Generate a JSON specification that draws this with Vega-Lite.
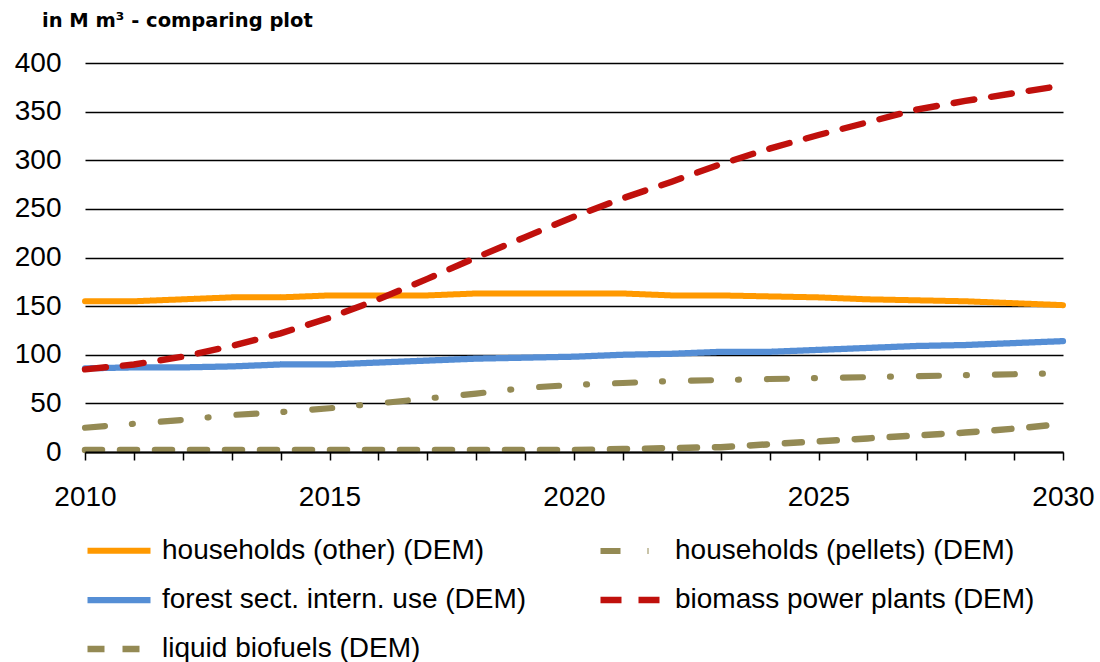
{
  "$schema": "https://vega.github.io/schema/vega-lite/v6.json",
  "width": 978,
  "height": 389,
  "autosize": {"type": "none"},
  "padding": {"left": 85, "top": 63, "right": 37, "bottom": 210},
  "background": "white",
  "config": {
    "view": {"stroke": null},
    "font": "Liberation Sans"
  },
  "title": {
    "text": "in M m³ - comparing plot",
    "anchor": "start",
    "frame": "group",
    "dx": -43,
    "offset": 18,
    "fontSize": 19.5,
    "fontWeight": "bold",
    "font": "DejaVu Sans",
    "color": "black"
  },
  "data": {
    "values": [
      {"year": 2010, "series": "households (other) (DEM)", "value": 155},
      {"year": 2011, "series": "households (other) (DEM)", "value": 155},
      {"year": 2012, "series": "households (other) (DEM)", "value": 157},
      {"year": 2013, "series": "households (other) (DEM)", "value": 159},
      {"year": 2014, "series": "households (other) (DEM)", "value": 159},
      {"year": 2015, "series": "households (other) (DEM)", "value": 161},
      {"year": 2016, "series": "households (other) (DEM)", "value": 161},
      {"year": 2017, "series": "households (other) (DEM)", "value": 161},
      {"year": 2018, "series": "households (other) (DEM)", "value": 163},
      {"year": 2019, "series": "households (other) (DEM)", "value": 163},
      {"year": 2020, "series": "households (other) (DEM)", "value": 163},
      {"year": 2021, "series": "households (other) (DEM)", "value": 163},
      {"year": 2022, "series": "households (other) (DEM)", "value": 161},
      {"year": 2023, "series": "households (other) (DEM)", "value": 161},
      {"year": 2024, "series": "households (other) (DEM)", "value": 160},
      {"year": 2025, "series": "households (other) (DEM)", "value": 159},
      {"year": 2026, "series": "households (other) (DEM)", "value": 157},
      {"year": 2027, "series": "households (other) (DEM)", "value": 156},
      {"year": 2028, "series": "households (other) (DEM)", "value": 155},
      {"year": 2029, "series": "households (other) (DEM)", "value": 153},
      {"year": 2030, "series": "households (other) (DEM)", "value": 151},
      {"year": 2010, "series": "households (pellets) (DEM)", "value": 25},
      {"year": 2011, "series": "households (pellets) (DEM)", "value": 29},
      {"year": 2012, "series": "households (pellets) (DEM)", "value": 33},
      {"year": 2013, "series": "households (pellets) (DEM)", "value": 38},
      {"year": 2014, "series": "households (pellets) (DEM)", "value": 41},
      {"year": 2015, "series": "households (pellets) (DEM)", "value": 45},
      {"year": 2016, "series": "households (pellets) (DEM)", "value": 50},
      {"year": 2017, "series": "households (pellets) (DEM)", "value": 55},
      {"year": 2018, "series": "households (pellets) (DEM)", "value": 60},
      {"year": 2019, "series": "households (pellets) (DEM)", "value": 66},
      {"year": 2020, "series": "households (pellets) (DEM)", "value": 69},
      {"year": 2021, "series": "households (pellets) (DEM)", "value": 71},
      {"year": 2022, "series": "households (pellets) (DEM)", "value": 73},
      {"year": 2023, "series": "households (pellets) (DEM)", "value": 74},
      {"year": 2024, "series": "households (pellets) (DEM)", "value": 75},
      {"year": 2025, "series": "households (pellets) (DEM)", "value": 76},
      {"year": 2026, "series": "households (pellets) (DEM)", "value": 77},
      {"year": 2027, "series": "households (pellets) (DEM)", "value": 78},
      {"year": 2028, "series": "households (pellets) (DEM)", "value": 79},
      {"year": 2029, "series": "households (pellets) (DEM)", "value": 80},
      {"year": 2030, "series": "households (pellets) (DEM)", "value": 81},
      {"year": 2010, "series": "forest sect.  intern. use (DEM)", "value": 86},
      {"year": 2011, "series": "forest sect.  intern. use (DEM)", "value": 87},
      {"year": 2012, "series": "forest sect.  intern. use (DEM)", "value": 87},
      {"year": 2013, "series": "forest sect.  intern. use (DEM)", "value": 88},
      {"year": 2014, "series": "forest sect.  intern. use (DEM)", "value": 90},
      {"year": 2015, "series": "forest sect.  intern. use (DEM)", "value": 90},
      {"year": 2016, "series": "forest sect.  intern. use (DEM)", "value": 92},
      {"year": 2017, "series": "forest sect.  intern. use (DEM)", "value": 94},
      {"year": 2018, "series": "forest sect.  intern. use (DEM)", "value": 96},
      {"year": 2019, "series": "forest sect.  intern. use (DEM)", "value": 97},
      {"year": 2020, "series": "forest sect.  intern. use (DEM)", "value": 98},
      {"year": 2021, "series": "forest sect.  intern. use (DEM)", "value": 100},
      {"year": 2022, "series": "forest sect.  intern. use (DEM)", "value": 101},
      {"year": 2023, "series": "forest sect.  intern. use (DEM)", "value": 103},
      {"year": 2024, "series": "forest sect.  intern. use (DEM)", "value": 103},
      {"year": 2025, "series": "forest sect.  intern. use (DEM)", "value": 105},
      {"year": 2026, "series": "forest sect.  intern. use (DEM)", "value": 107},
      {"year": 2027, "series": "forest sect.  intern. use (DEM)", "value": 109},
      {"year": 2028, "series": "forest sect.  intern. use (DEM)", "value": 110},
      {"year": 2029, "series": "forest sect.  intern. use (DEM)", "value": 112},
      {"year": 2030, "series": "forest sect.  intern. use (DEM)", "value": 114},
      {"year": 2010, "series": "biomass power plants (DEM)", "value": 85},
      {"year": 2011, "series": "biomass power plants (DEM)", "value": 90},
      {"year": 2012, "series": "biomass power plants (DEM)", "value": 98},
      {"year": 2013, "series": "biomass power plants (DEM)", "value": 109},
      {"year": 2014, "series": "biomass power plants (DEM)", "value": 122},
      {"year": 2015, "series": "biomass power plants (DEM)", "value": 138},
      {"year": 2016, "series": "biomass power plants (DEM)", "value": 157},
      {"year": 2017, "series": "biomass power plants (DEM)", "value": 178},
      {"year": 2018, "series": "biomass power plants (DEM)", "value": 200},
      {"year": 2019, "series": "biomass power plants (DEM)", "value": 221},
      {"year": 2020, "series": "biomass power plants (DEM)", "value": 242},
      {"year": 2021, "series": "biomass power plants (DEM)", "value": 261},
      {"year": 2022, "series": "biomass power plants (DEM)", "value": 278},
      {"year": 2023, "series": "biomass power plants (DEM)", "value": 296},
      {"year": 2024, "series": "biomass power plants (DEM)", "value": 312},
      {"year": 2025, "series": "biomass power plants (DEM)", "value": 326},
      {"year": 2026, "series": "biomass power plants (DEM)", "value": 339},
      {"year": 2027, "series": "biomass power plants (DEM)", "value": 352},
      {"year": 2028, "series": "biomass power plants (DEM)", "value": 361},
      {"year": 2029, "series": "biomass power plants (DEM)", "value": 369},
      {"year": 2030, "series": "biomass power plants (DEM)", "value": 377},
      {"year": 2010, "series": "liquid biofuels (DEM)", "value": 2},
      {"year": 2011, "series": "liquid biofuels (DEM)", "value": 2},
      {"year": 2012, "series": "liquid biofuels (DEM)", "value": 2},
      {"year": 2013, "series": "liquid biofuels (DEM)", "value": 2},
      {"year": 2014, "series": "liquid biofuels (DEM)", "value": 2},
      {"year": 2015, "series": "liquid biofuels (DEM)", "value": 2},
      {"year": 2016, "series": "liquid biofuels (DEM)", "value": 2},
      {"year": 2017, "series": "liquid biofuels (DEM)", "value": 2},
      {"year": 2018, "series": "liquid biofuels (DEM)", "value": 2},
      {"year": 2019, "series": "liquid biofuels (DEM)", "value": 2},
      {"year": 2020, "series": "liquid biofuels (DEM)", "value": 2},
      {"year": 2021, "series": "liquid biofuels (DEM)", "value": 3},
      {"year": 2022, "series": "liquid biofuels (DEM)", "value": 4},
      {"year": 2023, "series": "liquid biofuels (DEM)", "value": 5},
      {"year": 2024, "series": "liquid biofuels (DEM)", "value": 8},
      {"year": 2025, "series": "liquid biofuels (DEM)", "value": 11},
      {"year": 2026, "series": "liquid biofuels (DEM)", "value": 14},
      {"year": 2027, "series": "liquid biofuels (DEM)", "value": 17},
      {"year": 2028, "series": "liquid biofuels (DEM)", "value": 20},
      {"year": 2029, "series": "liquid biofuels (DEM)", "value": 24},
      {"year": 2030, "series": "liquid biofuels (DEM)", "value": 29}
    ]
  },
  "mark": {"type": "line", "strokeCap": "round", "clip": false},
  "encoding": {
    "x": {
      "field": "year",
      "type": "quantitative",
      "scale": {"domain": [2010, 2030], "nice": false, "zero": false},
      "axis": {
        "title": null,
        "values": [2010,2011,2012,2013,2014,2015,2016,2017,2018,2019,2020,2021,2022,2023,2024,2025,2026,2027,2028,2029,2030],
        "labelExpr": "datum.value % 5 === 0 ? datum.value : ''",
        "labelFontSize": 28,
        "labelColor": "black",
        "labelPadding": 23,
        "labelFlush": false,
        "labelOverlap": false,
        "domainColor": "black",
        "domainWidth": 2,
        "tickColor": "black",
        "tickWidth": 1.5,
        "tickSize": 8,
        "grid": false,
        "zindex": 1
      }
    },
    "y": {
      "field": "value",
      "type": "quantitative",
      "scale": {"domain": [0, 400], "nice": false},
      "axis": {
        "title": null,
        "values": [0,50,100,150,200,250,300,350,400],
        "labelFontSize": 28,
        "labelColor": "black",
        "labelPadding": 24,
        "domain": false,
        "ticks": false,
        "grid": true,
        "gridColor": "black",
        "gridWidth": 1.5,
        "gridOpacity": 1
      }
    },
    "color": {
      "field": "series",
      "type": "nominal",
      "scale": {
        "domain": ["households (other) (DEM)", "households (pellets) (DEM)", "forest sect.  intern. use (DEM)", "biomass power plants (DEM)", "liquid biofuels (DEM)"],
        "range": ["#FF9900", "#948A54", "#558ED5", "#C0100C", "#948A54"]
      },
      "legend": {
        "title": null,
        "orient": "none",
        "direction": "horizontal",
        "legendX": -1,
        "legendY": 453,
        "columns": 2,
        "symbolType": "stroke",
        "symbolSize": 3969,
        "symbolStrokeWidth": 5,
        "labelFontSize": 28,
        "labelColor": "black",
        "labelOffset": 8,
        "labelLimit": 600,
        "rowPadding": -13,
        "columnPadding": 53
      }
    },
    "strokeDash": {
      "field": "series",
      "type": "nominal",
      "scale": {
        "domain": ["households (other) (DEM)", "households (pellets) (DEM)", "forest sect.  intern. use (DEM)", "biomass power plants (DEM)", "liquid biofuels (DEM)"],
        "range": [[1, 0], [20, 27, 1, 28], [1, 0], [21, 17], [17, 18]]
      },
      "legend": null
    },
    "strokeWidth": {
      "field": "series",
      "type": "nominal",
      "scale": {
        "domain": ["households (other) (DEM)", "households (pellets) (DEM)", "forest sect.  intern. use (DEM)", "biomass power plants (DEM)", "liquid biofuels (DEM)"],
        "range": [6, 6.5, 6, 7.5, 8]
      },
      "legend": null
    },
    "order": {"field": "year"}
  }
}
